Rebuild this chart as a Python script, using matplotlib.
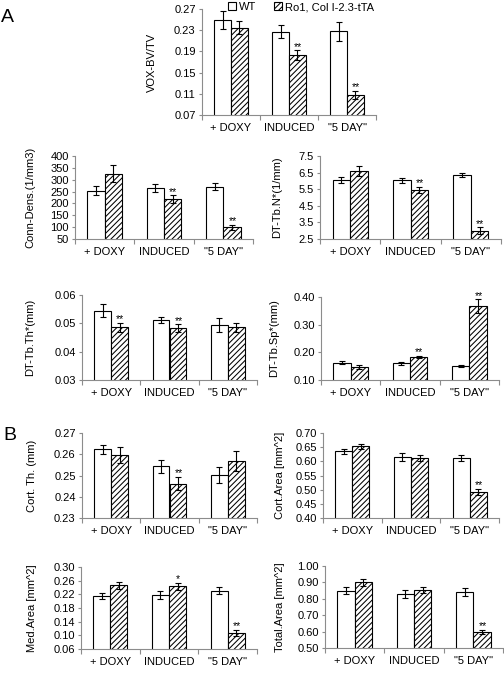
import matplotlib
matplotlib.use("Agg")
import matplotlib.pyplot as plt
from matplotlib.patches import Patch
from matplotlib.transforms import blended_transform_factory
import numpy as np

plt.rcParams['font.family'] = ['Liberation Sans', 'DejaVu Sans']
plt.rcParams['hatch.linewidth'] = 0.75

categories = ['+ DOXY', 'INDUCED', '"5 DAY"']
legend_labels = ['WT', 'Ro1, Col I-2.3-tTA']

# ---- panel data (WT mean, WT err, Ro1 mean, Ro1 err, stars on Ro1 bars) ----
vox_wt = [0.250, 0.227, 0.228]
vox_wt_err = [0.017, 0.012, 0.018]
vox_ro = [0.235, 0.183, 0.108]
vox_ro_err = [0.012, 0.009, 0.008]
vox_stars = ['', '**', '**']

conn_wt = [254, 266, 270]
conn_wt_err = [18, 17, 15]
conn_ro = [326, 217, 100]
conn_ro_err = [35, 17, 10]
conn_stars = ['', '**', '**']

tbn_wt = [6.05, 6.05, 6.38]
tbn_wt_err = [0.17, 0.15, 0.12]
tbn_ro = [6.60, 5.45, 3.00]
tbn_ro_err = [0.28, 0.18, 0.21]
tbn_stars = ['', '**', '**']

tbth_wt = [0.0544, 0.0511, 0.0494]
tbth_wt_err = [0.0023, 0.0010, 0.0025]
tbth_ro = [0.0486, 0.0483, 0.0486]
tbth_ro_err = [0.0015, 0.0014, 0.0015]
tbth_stars = ['**', '**', '']

tbsp_wt = [0.162, 0.160, 0.151]
tbsp_wt_err = [0.005, 0.004, 0.003]
tbsp_ro = [0.147, 0.183, 0.367]
tbsp_ro_err = [0.006, 0.005, 0.025]
tbsp_stars = ['', '**', '**']

cth_wt = [0.2623, 0.2544, 0.2501]
cth_wt_err = [0.0022, 0.0030, 0.0037]
cth_ro = [0.2597, 0.2462, 0.2566]
cth_ro_err = [0.0036, 0.0031, 0.0047]
cth_stars = ['', '**', '']

car_wt = [0.635, 0.615, 0.611]
car_wt_err = [0.008, 0.013, 0.010]
car_ro = [0.653, 0.612, 0.493]
car_ro_err = [0.009, 0.012, 0.011]
car_stars = ['', '', '**']

med_wt = [0.214, 0.217, 0.231]
med_wt_err = [0.009, 0.012, 0.010]
med_ro = [0.247, 0.243, 0.107]
med_ro_err = [0.010, 0.011, 0.010]
med_stars = ['', '*', '**']

tot_wt = [0.850, 0.829, 0.841]
tot_wt_err = [0.020, 0.022, 0.022]
tot_ro = [0.900, 0.854, 0.598]
tot_ro_err = [0.022, 0.020, 0.012]
tot_stars = ['', '', '**']

W, H = 504, 674
fig = plt.figure(figsize=(W / 100, H / 100), dpi=100)

GRAY = '#8c8c8c'
BW = 0.29
HATCH = '//////'


def add_ax(l, t, r, b):
    return fig.add_axes([l / W, 1 - b / H, (r - l) / W, (b - t) / H])


def panel(box, wt, wt_err, ro, ro_err, stars, ylim, step, fmt, ylabel, label_x):
    ax = add_ax(*box)
    x = np.arange(len(categories))
    ax.bar(x - BW / 2, wt, BW, color='white', edgecolor='black', linewidth=0.8, zorder=2)
    ax.bar(x + BW / 2, ro, BW, color='white', edgecolor='black', linewidth=0.8,
           hatch=HATCH, zorder=2)
    ax.errorbar(x - BW / 2, wt, yerr=wt_err, fmt='none', ecolor='black',
                elinewidth=0.8, capsize=2.3, capthick=0.8, zorder=3)
    ax.errorbar(x + BW / 2, ro, yerr=ro_err, fmt='none', ecolor='black',
                elinewidth=0.8, capsize=2.3, capthick=0.8, zorder=3)
    for xi, m, e, s in zip(x, ro, ro_err, stars):
        if s:
            ax.annotate(s, (xi + BW / 2, m + e), xytext=(0.5, 2.5),
                        textcoords='offset points', ha='center', va='center',
                        fontsize=7.5)
    ax.set_xlim(-0.5, 2.5)
    ax.set_ylim(*ylim)
    ax.set_yticks(np.arange(ylim[0], ylim[1] + step / 2, step))
    ax.yaxis.set_major_formatter(matplotlib.ticker.FormatStrFormatter(fmt))
    ax.set_xticks(x)
    ax.set_xticklabels(categories)
    ax.set_xticks([-0.5, 0.5, 1.5, 2.5], minor=True)
    ax.tick_params(axis='x', which='major', length=0, pad=6, labelsize=8)
    ax.tick_params(axis='x', which='minor', length=3.5, color=GRAY, width=0.8)
    ax.tick_params(axis='y', length=2.5, color=GRAY, width=0.8, pad=2, labelsize=8)
    for side in ('top', 'right'):
        ax.spines[side].set_visible(False)
    for side in ('left', 'bottom'):
        ax.spines[side].set_color(GRAY)
        ax.spines[side].set_linewidth(0.8)
    ax.set_ylabel(ylabel, fontsize=8)
    trans = blended_transform_factory(fig.transFigure, ax.transAxes)
    ax.yaxis.set_label_coords(label_x / W, 0.5, transform=trans)
    ax.yaxis.label.set_va('center')
    return ax


panel((202, 9, 376, 115), vox_wt, vox_wt_err, vox_ro, vox_ro_err, vox_stars,
      (0.07, 0.27), 0.04, '%.2f', 'VOX-BV/TV', 152)
panel((75, 156, 253, 239), conn_wt, conn_wt_err, conn_ro, conn_ro_err, conn_stars,
      (50, 400), 50, '%d', 'Conn-Dens.(1/mm3)', 30)
panel((320, 156, 501, 239), tbn_wt, tbn_wt_err, tbn_ro, tbn_ro_err, tbn_stars,
      (2.5, 7.5), 1.0, '%.1f', 'DT-Tb.N*(1/mm)', 277)
panel((82, 295, 257, 380), tbth_wt, tbth_wt_err, tbth_ro, tbth_ro_err, tbth_stars,
      (0.03, 0.06), 0.01, '%.2f', 'DT-Tb.Th*(mm)', 30)
panel((321, 297, 499, 380), tbsp_wt, tbsp_wt_err, tbsp_ro, tbsp_ro_err, tbsp_stars,
      (0.10, 0.40), 0.10, '%.2f', 'DT-Tb.Sp*(mm)', 274)
panel((82, 433, 257, 518), cth_wt, cth_wt_err, cth_ro, cth_ro_err, cth_stars,
      (0.23, 0.27), 0.01, '%.2f', 'Cort. Th. (mm)', 32)
panel((323, 433, 499, 518), car_wt, car_wt_err, car_ro, car_ro_err, car_stars,
      (0.40, 0.70), 0.05, '%.2f', 'Cort.Area [mm^2]', 280)
panel((81, 567, 257, 649), med_wt, med_wt_err, med_ro, med_ro_err, med_stars,
      (0.06, 0.30), 0.04, '%.2f', 'Med.Area [mm^2]', 32)
panel((325, 566, 503, 648), tot_wt, tot_wt_err, tot_ro, tot_ro_err, tot_stars,
      (0.50, 1.00), 0.10, '%.2f', 'Total.Area [mm^2]', 280)

handles = [Patch(facecolor='white', edgecolor='black', linewidth=0.8),
           Patch(facecolor='white', edgecolor='black', linewidth=0.8, hatch=HATCH)]
fig.legend(handles, legend_labels, loc='center left', bbox_to_anchor=(228 / W, 1 - 7 / H),
           ncol=2, frameon=False, fontsize=8, handlelength=0.7, handleheight=0.7,
           handletextpad=0.3, columnspacing=1.6, borderaxespad=0, borderpad=0)

fig.text(1 / W, 1 - 17 / H, 'A', fontsize=14, va='center', ha='left')
fig.text(3 / W, 1 - 435 / H, 'B', fontsize=14, va='center', ha='left')

fig.savefig('out.png', dpi=100)
